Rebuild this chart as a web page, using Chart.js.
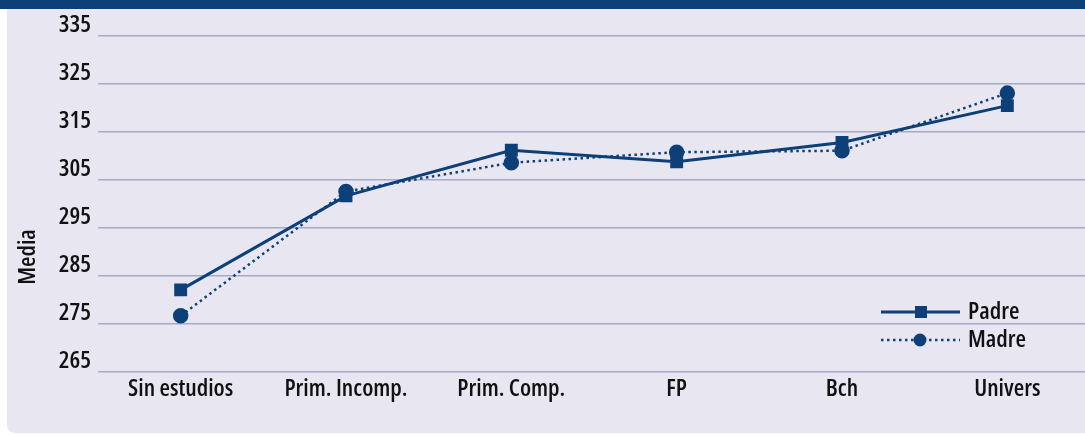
<!DOCTYPE html>
<html>
<head>
<meta charset="utf-8">
<script src="https://cdn.jsdelivr.net/npm/chart.js@4/dist/chart.umd.min.js"></script>
<style>
  html, body { margin: 0; padding: 0; background: #fff; }
  #wrap { position: relative; width: 1085px; height: 434px; overflow: hidden; }
  #bar { position: absolute; left: 0; top: 0; width: 1085px; height: 9px; background: #0c4077; }
  #panel { position: absolute; left: 7px; top: 9px; width: 1090px; height: 424px; background: #e8e7f1; border-bottom-left-radius: 8px; }
  #chart { position: absolute; left: 0; top: 0; }
</style>
</head>
<body>
<div id="wrap">
  <div id="bar"></div>
  <div id="panel"></div>
  <canvas id="chart" width="1100" height="434"></canvas>
</div>
<script>
// datos
const categorias = ['Sin estudios', 'Prim. Incomp.', 'Prim. Comp.', 'FP', 'Bch', 'Univers'];
const padre = [282.1, 301.7, 311.2, 308.8, 312.8, 320.5];
const madre = [276.7, 302.6, 308.6, 310.8, 311.1, 323.1];
const ticksY = [265, 275, 285, 295, 305, 315, 325, 335];

const azul = '#0d3f78';
const fuente = '"Open Sans", sans-serif';
// el "condensed" va en weight porque Chart.js no lo acepta en style
const letra = { family: fuente, size: 24, weight: '600 condensed' };

// leyenda dibujada a mano (linea + marcador)
const leyenda = {
  id: 'leyenda',
  afterDraw(chart) {
    const c = chart.ctx;
    const items = [
      { ds: chart.data.datasets[0], y: 312 },
      { ds: chart.data.datasets[1], y: 340 }
    ];
    c.save();
    c.font = '600 condensed 24px ' + fuente;
    items.forEach(it => {
      c.strokeStyle = azul;
      c.lineWidth = it.ds.borderWidth;
      c.setLineDash(it.ds.borderDash || []);
      c.beginPath();
      c.moveTo(881, it.y);
      c.lineTo(960, it.y);
      c.stroke();
      c.setLineDash([]);
      c.fillStyle = azul;
      if (it.ds.pointStyle === 'rect') {
        c.fillRect(921 - 6, it.y - 6, 12, 12);
      } else {
        c.beginPath();
        c.arc(920, it.y, 6.5, 0, Math.PI * 2);
        c.fill();
      }
      c.fillStyle = '#111';
      c.textBaseline = 'middle';
      c.fillText(it.ds.label, 968, it.y);
    });
    // titulo eje Y
    c.translate(28, 257);
    c.rotate(-Math.PI / 2);
    c.textAlign = 'center';
    c.textBaseline = 'middle';
    c.fillText('Media', 0, 0);
    c.restore();
  }
};

new Chart(document.getElementById('chart'), {
  type: 'line',
  data: {
    labels: categorias,
    datasets: [{
      label: 'Padre',
      data: padre,
      borderColor: azul,
      backgroundColor: azul,
      borderWidth: 3,
      pointStyle: 'rect',
      pointRadius: 7,
      tension: 0
    }, {
      label: 'Madre',
      data: madre,
      borderColor: azul,
      backgroundColor: azul,
      borderWidth: 2.5,
      borderDash: [2.5, 3.5],
      pointStyle: 'circle',
      pointRadius: 6.5,
      tension: 0
    }]
  },
  options: {
    responsive: false,
    animation: false,
    devicePixelRatio: 1,
    layout: { padding: { left: 0, right: 0, top: 36, bottom: 0 } },
    plugins: { legend: { display: false }, tooltip: { enabled: false } },
    scales: {
      x: {
        offset: true,
        grid: { display: false },
        border: { display: false },
        ticks: { color: '#111', font: letra, padding: -5, maxRotation: 0, autoSkip: false },
        afterFit(s) { s.height = 62; }
      },
      y: {
        min: 265,
        max: 335,
        afterBuildTicks(s) { s.ticks = ticksY.map(v => ({ value: v })); },
        grid: { color: '#a6a8cc', lineWidth: 1.5, drawTicks: false },
        border: { display: false },
        ticks: { color: '#111', font: letra, padding: 7, labelOffset: -11 },
        afterFit(s) { s.width = 98; }
      }
    }
  },
  plugins: [leyenda]
});
</script>
</body>
</html>
